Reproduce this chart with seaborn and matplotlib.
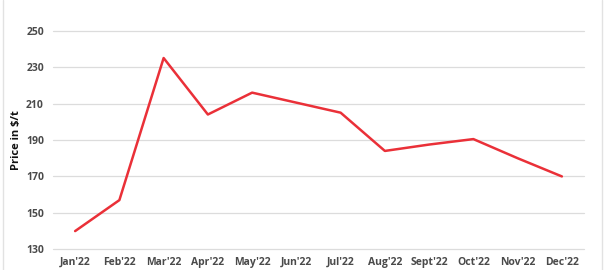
import matplotlib
matplotlib.use("Agg")
import matplotlib.pyplot as plt
import seaborn as sns
import pandas as pd
from matplotlib.lines import Line2D

months = ["Jan'22", "Feb'22", "Mar'22", "Apr'22", "May'22", "Jun'22",
          "Jul'22", "Aug'22", "Sept'22", "Oct'22", "Nov'22", "Dec'22"]
prices = [140, 157, 235, 204, 216, 210.5, 205, 184, 187.5, 190.5, 180, 170]
yticks = [130, 150, 170, 190, 210, 230, 250]
ylabel = "Price in $/t"

sns.set_theme(style="white")
plt.rcParams['font.family'] = ['Open Sans', 'DejaVu Sans']

df = pd.DataFrame({"month": months, "price": prices, "x": range(len(months))})

fig = plt.figure(figsize=(6.04, 2.70), dpi=100)
ax = fig.add_axes([53/604, 1 - 249.3/270, (584-53)/604, (249.3-30.7)/270])

for t in yticks:
    ax.axhline(t, color="#dcdcdc", lw=0.9, zorder=0, clip_on=False)

sns.lineplot(data=df, x="x", y="price", ax=ax, color="#ea3038", lw=1.8, zorder=3)

ax.set_xlim(-0.5, len(months) - 0.5)
ax.set_ylim(130, 250)
ax.set_xticks(range(len(months)))
ax.set_xticklabels(months)
ax.set_yticks(yticks)
ax.tick_params(axis="both", length=0, labelsize=7.5, labelcolor="#4a4a4a")
for lbl in ax.get_xticklabels() + ax.get_yticklabels():
    lbl.set_fontweight("bold")
ax.tick_params(axis="x", pad=5.5)
ax.tick_params(axis="y", pad=6.5)
ax.set_xlabel("")
ax.set_ylabel(ylabel, fontsize=8, fontweight="bold", color="#111111")
ax.yaxis.set_label_coords(-0.059, 0.5)
for s in ax.spines.values():
    s.set_visible(False)

fig.add_artist(Line2D([2.5/604, 2.5/604], [0, 1], color="#e2e2e2", lw=1))
fig.add_artist(Line2D([601.5/604, 601.5/604], [0, 1], color="#e2e2e2", lw=1))

fig.savefig("out.png", dpi=100)
